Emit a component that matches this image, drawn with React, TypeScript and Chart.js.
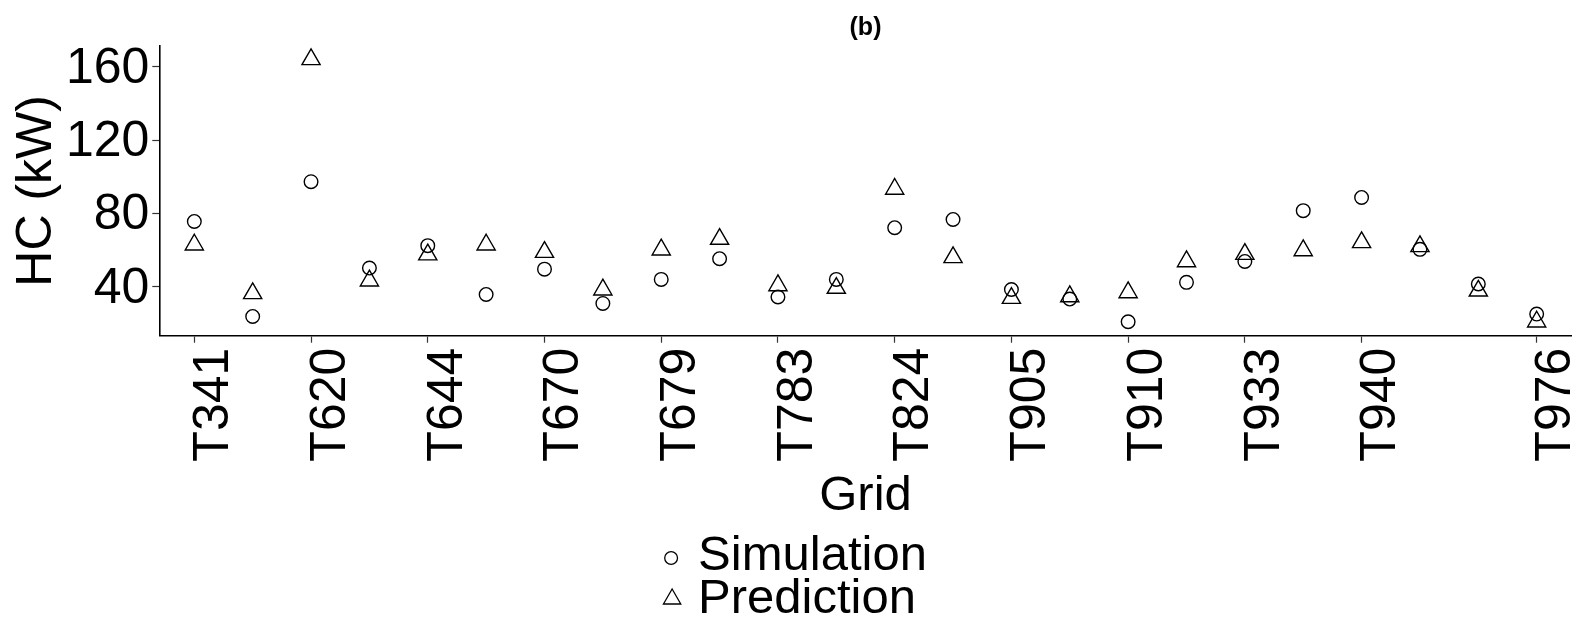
import React, { useEffect, useRef } from 'react';
import { Chart, registerables } from 'chart.js';

Chart.register(...registerables);

const categories: string[] = [
  'T341', '', 'T620', '', 'T644', '', 'T670', '', 'T679', '', 'T783', '',
  'T824', '', 'T905', '', 'T910', '', 'T933', '', 'T940', '', '', 'T976',
];

const simulation: number[] = [
  75.6, 23.8, 97.3, 50.2, 62.4, 35.8, 49.6, 30.9, 44.0, 55.3, 34.4, 44.0,
  72.2, 76.7, 38.5, 33.3, 20.9, 42.4, 53.8, 81.5, 88.7, 60.4, 41.5, 25.1,
];

const prediction: number[] = [
  62.9, 36.4, 164.0, 43.3, 57.5, 62.9, 58.9, 38.4, 60.2, 66.0, 40.7, 39.3,
  93.3, 56.0, 33.8, 34.7, 36.9, 53.8, 57.8, 59.8, 64.2, 62.0, 37.8, 20.9,
];

const yTicks: number[] = [40, 80, 120, 160];

const seriesLabels = ['Simulation', 'Prediction'];

const FONT = "'Liberation Sans', Arial, Helvetica, sans-serif";

const tickIndices = categories
  .map((c, i) => (c ? i : -1))
  .filter((i) => i >= 0);

const bottomLegend = {
  id: 'bottomLegend',
  afterDraw(chart: any) {
    const ctx = chart.ctx as CanvasRenderingContext2D;
    ctx.save();
    ctx.font = `49px ${FONT}`;
    const items = chart.data.datasets.map((ds: any) => ({
      label: ds.label as string,
      style: ds.pointStyle as string,
    }));
    const textW = Math.max(...items.map((it: any) => ctx.measureText(it.label).width));
    const keyW = 38;
    const left = chart.width / 2 - (keyW + textW) / 2;
    const rows = [556, 599];
    items.forEach((it: any, i: number) => {
      const y = rows[i];
      ctx.strokeStyle = '#000';
      ctx.lineWidth = 1.3;
      ctx.beginPath();
      if (it.style === 'circle') {
        ctx.arc(left + 11, y + 2, 6.4, 0, Math.PI * 2);
      } else {
        const cx = left + 12;
        const cy = y;
        const r = 10;
        ctx.moveTo(cx, cy - r);
        ctx.lineTo(cx + r * 0.866, cy + r / 2);
        ctx.lineTo(cx - r * 0.866, cy + r / 2);
        ctx.closePath();
      }
      ctx.stroke();
      ctx.fillStyle = '#000';
      ctx.textAlign = 'left';
      ctx.textBaseline = 'middle';
      ctx.fillText(it.label, left + keyW, y);
    });
    ctx.restore();
  },
};

export default function App() {
  const canvasRef = useRef<HTMLCanvasElement | null>(null);

  useEffect(() => {
    document.body.style.margin = '0';
    document.body.style.overflow = 'hidden';
    const canvas = canvasRef.current;
    if (!canvas) return;

    const chart = new Chart(canvas, {
      type: 'scatter',
      data: {
        datasets: [
          {
            label: seriesLabels[0],
            data: simulation.map((v, i) => ({ x: i, y: v })),
            pointStyle: 'circle',
            pointRadius: 6.8,
            pointBorderWidth: 1.4,
            borderColor: '#000',
            backgroundColor: 'rgba(0,0,0,0)',
          },
          {
            label: seriesLabels[1],
            data: prediction.map((v, i) => ({ x: i, y: v })),
            pointStyle: 'triangle',
            pointRadius: 10.5,
            pointBorderWidth: 1.4,
            borderColor: '#000',
            backgroundColor: 'rgba(0,0,0,0)',
          },
        ],
      },
      options: {
        responsive: false,
        animation: false,
        events: [],
        layout: { padding: { left: 0, right: 15.3, top: 0, bottom: 98.5 } },
        plugins: {
          legend: { display: false },
          tooltip: { enabled: false },
          title: {
            display: true,
            text: '(b)',
            fullSize: false,
            color: '#000',
            font: { family: FONT, size: 25, weight: 'bold', lineHeight: 1 },
            padding: { top: 15.5, bottom: 5.5 },
          },
        },
        scales: {
          x: {
            type: 'linear',
            min: -0.6,
            max: 23.6,
            afterBuildTicks: (s: any) => {
              s.ticks = tickIndices.map((v) => ({ value: v }));
            },
            afterFit: (s: any) => {
              s.height = 184.8;
              s.paddingLeft = 0;
              s.paddingRight = 0;
            },
            ticks: {
              autoSkip: false,
              minRotation: 90,
              maxRotation: 90,
              padding: 5,
              labelOffset: 20,
              color: '#000',
              font: { family: FONT, size: 50 },
              callback: (v: any) => categories[Math.round(Number(v))] ?? '',
            },
            grid: {
              display: true,
              drawOnChartArea: false,
              drawTicks: true,
              tickLength: 7,
              tickWidth: 1.2,
              tickColor: '#333',
            },
            border: { display: true, color: '#000', width: 1.6 },
            title: {
              display: true,
              text: 'Grid',
              color: '#000',
              font: { family: FONT, size: 49, lineHeight: 1 },
              padding: { top: 0, bottom: 0 },
            },
          },
          y: {
            type: 'linear',
            min: 13.3,
            max: 171.3,
            afterBuildTicks: (s: any) => {
              s.ticks = yTicks.map((v) => ({ value: v }));
            },
            afterFit: (s: any) => {
              s.width = 159.3;
              s.paddingTop = 0;
              s.paddingBottom = 0;
            },
            ticks: {
              padding: 3,
              labelOffset: 2,
              color: '#000',
              font: { family: FONT, size: 50 },
            },
            grid: {
              display: true,
              drawOnChartArea: false,
              drawTicks: true,
              tickLength: 7,
              tickWidth: 1.2,
              tickColor: '#333',
            },
            border: { display: true, color: '#000', width: 1.6 },
            title: {
              display: true,
              text: 'HC (kW)',
              color: '#000',
              font: { family: FONT, size: 50, lineHeight: 1 },
              padding: { top: 12.5, bottom: 0 },
            },
          },
        },
      },
      plugins: [bottomLegend],
    });

    return () => {
      chart.destroy();
    };
  }, []);

  return (
    <div style={{ width: 1587, height: 619, overflow: 'hidden' }}>
      <canvas
        ref={canvasRef}
        width={1587}
        height={619}
        style={{ display: 'block', width: 1587, height: 619 }}
      />
    </div>
  );
}
